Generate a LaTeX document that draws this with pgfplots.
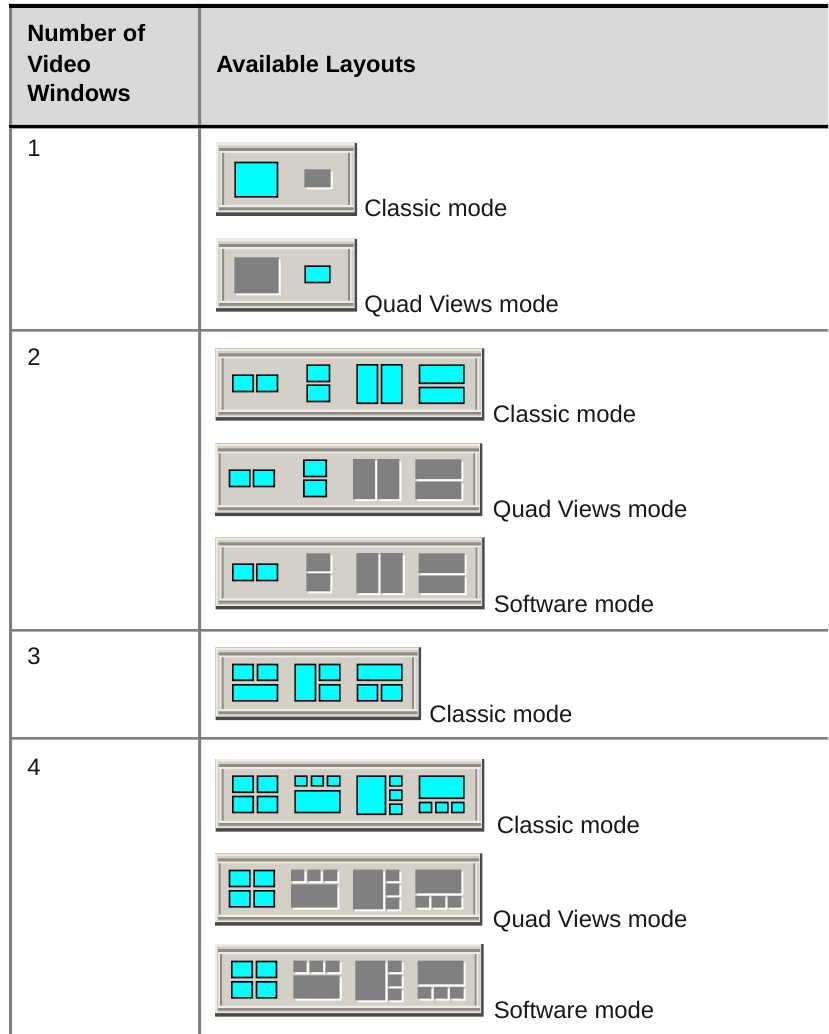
\documentclass[border=0pt]{standalone}
\usepackage{fontspec}
\setmainfont{Liberation Sans}
\usepackage{pgfplots}
\pgfplotsset{compat=1.18}
\definecolor{hdr}{HTML}{D9D9D9}
\definecolor{rulec}{HTML}{808080}
\definecolor{face}{HTML}{D4D0C8}
\definecolor{lite}{HTML}{EEEBE5}
\definecolor{dark}{HTML}{4A4A4A}
\definecolor{grv}{HTML}{8E8C88}
\definecolor{cyn}{HTML}{00FFFF}
\definecolor{blk}{HTML}{0C0C0C}
\newcommand{\RA}[5]{\addplot[fill=#5,draw=none] coordinates {(#1,#2)(#3,#2)(#3,#4)(#1,#4)(#1,#2)};}
\def\ox{0}\def\oy{0}
\newcommand{\Rr}[5]{%
  \pgfmathsetmacro{\myxa}{\ox+#1}\pgfmathsetmacro{\myya}{\oy+#2}%
  \pgfmathsetmacro{\myxb}{\ox+#3}\pgfmathsetmacro{\myyb}{\oy+#4}%
  \RA{\myxa}{\myya}{\myxb}{\myyb}{#5}}
\newcommand{\WC}[4]{\Rr{#1}{#2}{#3}{#4}{blk}\Rr{#1+1.7}{#2+1.7}{#3-1.7}{#4-1.7}{cyn}}
\newcommand{\WG}[4]{\Rr{#1+2}{#2+2}{#3+2}{#4+2}{white}\Rr{#1}{#2}{#3}{#4}{rulec}}
\let\Ww\WC
% button: x1 y1 x2 y2 left-groove-inset
\newcommand{\Bt}[5]{%
  \def\ox{#1}\def\oy{#2}%
  \pgfmathsetmacro{\bw}{#3-#1}\pgfmathsetmacro{\bh}{#4-#2}%
  \Rr{0}{0}{\bw}{\bh}{dark}%
  \Rr{0}{0}{\bw-2.5}{\bh-3.5}{lite}%
  \Rr{2}{2.5}{\bw-3}{\bh-4.5}{face}%
  \Rr{3}{5}{\bw-3.5}{8.2}{grv}%
  \Rr{3}{8.2}{\bw-3.5}{10}{lite}%
  \Rr{3}{\bh-11}{\bw-3.5}{\bh-8.7}{lite}%
  \Rr{3}{\bh-8.7}{\bw-3.5}{\bh-6}{grv}%
  \Rr{#5-1.5}{10}{#5}{\bh-11}{lite}%
  \Rr{#5}{10}{#5+2}{\bh-11}{grv}%
  \Rr{\bw-9}{10}{\bw-7}{\bh-11}{grv}%
  \Rr{\bw-7}{10}{\bw-5.5}{\bh-11}{lite}}
\newcommand{\Lside}{\Ww{16.3}{26}{38.3}{44}\Ww{40.3}{26}{62.7}{44}}
\newcommand{\Lstack}{\Ww{90.7}{16}{114.7}{34}\Ww{90.7}{36}{114.7}{54}}
\newcommand{\Ltall}{\Ww{140.7}{15.7}{162.7}{55.7}\Ww{165}{15.7}{187}{55.7}}
\newcommand{\Lwide}{\Ww{203}{16}{249}{35.7}\Ww{203}{38.3}{249}{55.7}}
\newcommand{\Lquad}{\Ww{16.3}{16.3}{38.3}{34}\Ww{41}{16.3}{62.7}{34}\Ww{16.3}{36.7}{38.3}{54.3}\Ww{41}{36.7}{62.7}{54.3}}
\newcommand{\Ltop}{\Ww{78.7}{16.3}{92}{27.7}\Ww{95}{16.3}{108.3}{27.7}\Ww{111}{16.3}{125}{27.7}\Ww{78.7}{31}{125}{54.3}}
\newcommand{\Lright}{\Ww{140.7}{16.3}{170.7}{56}\Ww{173.3}{16.3}{187}{27.7}\Ww{173.3}{30.3}{187}{42}\Ww{173.3}{44.3}{187}{56}}
\newcommand{\Lbot}{\Ww{203}{16.3}{249}{40}\Ww{203}{42.7}{216.7}{54.3}\Ww{219.3}{42.7}{233}{54.3}\Ww{235.3}{42.7}{249}{54.3}}
\newcommand{\Tx}[3]{\node[anchor=base west,inner sep=0pt,font=\fontsize{17.9}{20}\selectfont,text=black!90] at (axis cs:#1,#2) {#3};}
\newcommand{\Hx}[3]{\node[anchor=base west,inner sep=0pt,font=\fontsize{17.7}{20}\selectfont\bfseries,text=black] at (axis cs:#1,#2) {#3};}
\begin{document}
\begin{tikzpicture}
\begin{axis}[
  at={(0pt,0pt)},anchor=south west,
  width=621pt,height=775.5pt,scale only axis,hide axis,
  xmin=0,xmax=828,ymin=0,ymax=1034,y dir=reverse,
  every axis plot/.append style={no markers,forget plot},
]
\RA{0}{0}{828}{1034}{white}
% table
\RA{9}{8}{828}{125}{hdr}
\RA{9}{4}{828}{7.8}{black}
\RA{9}{125}{828}{128.3}{black}
\RA{9}{7.8}{12}{125}{rulec}
\RA{9}{128.3}{12}{1034}{rulec}
\RA{198}{7.8}{201.2}{125}{rulec}
\RA{198}{128.3}{201.2}{1034}{rulec}
\RA{201.2}{329}{828}{331.5}{rulec}
\RA{12}{329}{198}{331.5}{rulec}
\RA{12}{629}{828}{631.5}{rulec}
\RA{12}{737}{828}{739.5}{rulec}
% row 1
\Bt{216}{143}{357}{216}{6}
\def\ox{216}\def\oy{143}
\let\Ww\WC \Ww{18.3}{18.7}{62.3}{54.7}
\let\Ww\WG \Ww{88.3}{26.3}{114.7}{44.3}
\Bt{216}{239}{357}{311.7}{6}
\def\ox{216}\def\oy{239}
\let\Ww\WG \Ww{18.3}{18.3}{62.7}{54.3}
\let\Ww\WC \Ww{88.3}{26.3}{114.7}{44.3}
% row 2
\Bt{215.7}{348.3}{484.3}{420.7}{6}
\def\ox{215.7}\def\oy{348.3}
\let\Ww\WC \Lside\Lstack\Ltall\Lwide
\Bt{215}{443.3}{482.3}{516}{3.5}
\def\ox{212.4}\def\oy{443.3}
\let\Ww\WC \Lside\Lstack
\let\Ww\WG \Ltall\Lwide
\Bt{215.7}{537.3}{484.7}{609.3}{6}
\def\ox{215.7}\def\oy{537.3}
\let\Ww\WC \Lside
\let\Ww\WG \Lstack\Ltall\Lwide
% row 3
\Bt{215.7}{647.3}{421}{720}{6}
\def\ox{215.7}\def\oy{647.3}
\let\Ww\WC
\Ww{16.3}{16.3}{38.3}{33.7}\Ww{41}{16.3}{62.7}{33.7}\Ww{16.3}{36.7}{62.7}{54.3}
\Ww{78.7}{16.3}{100.7}{54.3}\Ww{103}{16.3}{125}{33.7}\Ww{103}{36.7}{125}{54.3}
\Ww{141}{16.3}{187}{33.7}\Ww{141}{36.7}{162.7}{54.3}\Ww{165}{36.7}{187}{54.3}
% row 4
\Bt{215.7}{759}{484.3}{831.7}{6}
\def\ox{215.7}\def\oy{759}
\let\Ww\WC \Lquad\Ltop\Lright\Lbot
\Bt{215}{853.3}{482.3}{925.7}{3.5}
\def\ox{212.4}\def\oy{853.3}
\let\Ww\WC \Lquad
\let\Ww\WG \Ltop\Lright\Lbot
\Bt{215}{944}{483.7}{1016.7}{5}
\def\ox{214.7}\def\oy{944.3}
\let\Ww\WC \Lquad
\let\Ww\WG \Ltop\Lright\Lbot
% text
\Hx{27}{42}{Number of}
\Hx{27}{72.7}{Video}
\Hx{27}{101.7}{Windows}
\Hx{216}{72.7}{Available Layouts}
\Tx{27}{157}{1}
\Tx{27}{365}{2}
\Tx{27}{664}{3}
\Tx{27}{775}{4}
\Tx{364}{217}{Classic mode}
\Tx{364}{312}{Quad Views mode}
\Tx{492.7}{422}{Classic mode}
\Tx{492.7}{517}{Quad Views mode}
\Tx{493.5}{612}{Software mode}
\Tx{429}{722}{Classic mode}
\Tx{496.5}{833}{Classic mode}
\Tx{492.7}{927}{Quad Views mode}
\Tx{493.5}{1018}{Software mode}
\end{axis}
\end{tikzpicture}
\end{document}
